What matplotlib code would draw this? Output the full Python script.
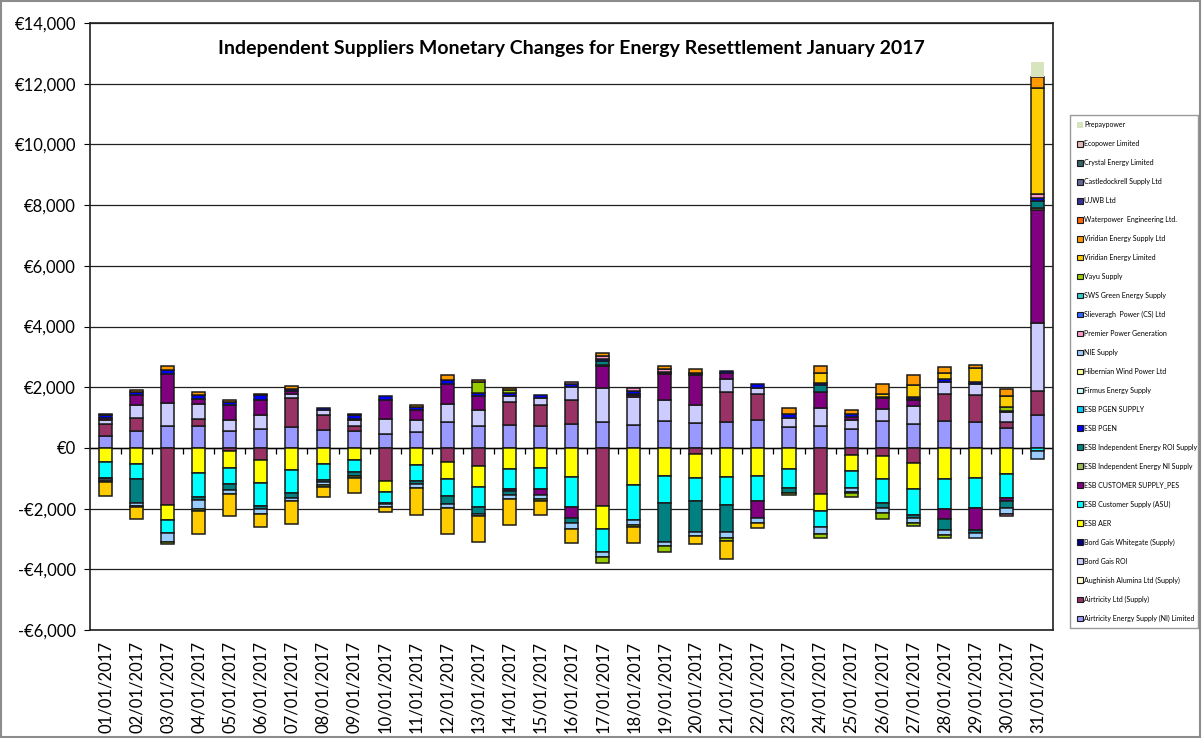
import numpy as np
import matplotlib
matplotlib.use("Agg")
import matplotlib.pyplot as plt
from matplotlib.patches import Rectangle
from matplotlib.ticker import FuncFormatter, MultipleLocator

plt.rcParams['font.family'] = ['Lato', 'DejaVu Sans']

days = [f"{d:02d}/01/2017" for d in range(1, 32)]

NIL = [0] * 31

# series values per day (EUR)
AIR_NI = [400, 545, 725, 725, 550, 615, 695, 585, 570, 470, 535, 840, 710, 765, 710, 800,
          870, 770, 900, 830, 855, 915, 680, 720, 640, 875, 785, 875, 850, 650, 1080]
AIR_LTD = [390, 440, -1890, 220, -100, -385, 955, 485, 155, -1090, 0, -460, -605, 735, 715, 780,
           -1910, 0, 0, -210, 980, 865, 0, -1510, -235, -265, -510, 890, 890, 200, 790]
BG_ROI = [130, 440, 770, 515, 385, 485, 130, 165, 185, 495, 385, 605, 550, 220, 230, 420,
          1110, 895, 665, 600, 420, 210, 300, 580, 265, 420, 610, 400, 355, 335, 2230]
AER = [-460, -515, -470, -825, -550, -770, -735, -540, -405, -360, -570, -550, -680, -680, -660, -955,
       -745, -1210, -935, -780, -965, -910, -690, -555, -535, -745, -835, -1010, -990, -855, 0]
ASU = [-520, -495, -430, -790, -550, -760, -750, -505, -385, -360, -515, -580, -660, -660, -680, -990,
       -780, -1170, -865, -745, -910, -855, -635, -555, -535, -810, -865, -1000, -1000, -800, -100]
PES = [80, 330, 935, 165, 470, 495, 90, 0, 55, 605, 330, 660, 440, -75, -220, -350,
       720, 90, 860, 960, 200, -555, 0, 555, 110, 335, 200, -335, -720, -90, 3735]
IE_NI = [0, 0, 0, 0, 0, 0, 0, 0, 0, 0, 0, 0, 0, 0, 0, 0,
         30, 30, 30, 30, 0, 0, 0, 0, 0, 0, 30, 0, 0, 0, 55]
IE_ROI = [-50, -800, 0, -110, -175, -90, -150, -75, -130, -45, -110, -265, -220, -145, 0, -175,
          130, 0, -1300, -1030, -890, 0, -165, 220, 0, -165, -110, -365, -80, -245, 250]
PGEN = [90, 100, 130, 110, 110, 140, 70, 95, 110, 130, 85, 120, 100, 75, 105, 110,
        60, 105, 55, 60, 90, 130, 150, 50, 95, 60, 50, 95, 80, 40, 90]
NIE = [-60, -110, -310, -285, -130, -165, -120, -90, 0, -90, -120, -110, -90, -110, -130, -185,
       -165, -165, -130, -130, -200, -165, 0, -200, -135, -165, -165, -145, -165, -200, -260]
PREMIER = [0, 0, 0, 0, 0, 0, 0, 0, 0, 0, 0, 0, 0, 0, 0, 65,
           110, 80, 80, 0, 0, 0, 0, 0, -55, 0, 0, 0, 0, -60, 130]
VAYU = [-40, -30, -80, -60, 0, 0, 0, -80, -55, 0, 0, 0, 365, 110, -60, 0,
        -190, -70, -200, 0, -90, 0, -70, -145, -120, -190, -100, -110, 0, 130, 0]
VEL = [-460, -380, 0, -770, -735, -430, -765, -330, -525, -165, -905, -870, -850, -880, -460, -475,
       0, -520, 0, -255, -590, -145, 0, 330, 0, 100, 390, 220, 445, 345, 3485]
VESL = [40, 70, 130, 110, 75, 55, 90, 0, 55, 0, 65, 175, 65, 55, 0, 0,
        110, 0, 110, 110, 0, 0, 200, 245, 145, 310, 335, 200, 110, 255, 385]
PREPAY = [0, 0, 0, 0, 0, 0, 0, 0, 0, 0, 0, 0, 0, 0, 0, 0,
          0, 0, 0, 0, 0, 0, 0, 0, 0, 0, 0, 0, 0, 0, 495]

# (name, values, colour) in stacking order
series = [
    ("Airtricity Energy Supply (NI) Limited", AIR_NI, "#9999FF"),
    ("Airtricity Ltd (Supply)", AIR_LTD, "#993366"),
    ("Aughinish Alumina Ltd (Supply)", NIL, "#FFFFCC"),
    ("Bord Gais ROI", BG_ROI, "#CCCCFF"),
    ("Bord Gais Whitegate (Supply)", NIL, "#000080"),
    ("ESB AER", AER, "#FFFF00"),
    ("ESB Customer Supply (ASU)", ASU, "#00FFFF"),
    ("ESB CUSTOMER SUPPLY_PES", PES, "#800080"),
    ("ESB Independent Energy NI Supply", IE_NI, "#9BBB59"),
    ("ESB Independent Energy ROI Supply", IE_ROI, "#008080"),
    ("ESB PGEN", PGEN, "#0000FF"),
    ("ESB PGEN SUPPLY", NIL, "#00CCFF"),
    ("Firmus Energy Supply", NIL, "#CCFFFF"),
    ("Hibernian Wind Power Ltd", NIL, "#FFFF99"),
    ("NIE Supply", NIE, "#99CCFF"),
    ("Premier Power Generation", PREMIER, "#FF99CC"),
    ("Slieveragh  Power (CS) Ltd", NIL, "#3366FF"),
    ("SWS Green Energy Supply", NIL, "#33CCCC"),
    ("Vayu Supply", VAYU, "#99CC00"),
    ("Viridian Energy Limited", VEL, "#FFCC00"),
    ("Viridian Energy Supply Ltd", VESL, "#FF9900"),
    ("Waterpower  Engineering Ltd.", NIL, "#FF6600"),
    ("UJWB Ltd", NIL, "#333399"),
    ("Castledockrell Supply Ltd", NIL, "#666699"),
    ("Crystal Energy Limited", NIL, "#336666"),
    ("Ecopower Limited", NIL, "#E6B9B8"),
    ("Prepaypower", PREPAY, "#D7E4BD"),
]

fig = plt.figure(figsize=(12.02, 7.38), dpi=100)
ax = fig.add_axes([0.0749, 0.1463, 0.8012, 0.8225])

x = np.arange(len(days))
width = 0.42
pos_base = np.zeros(len(days))
neg_base = np.zeros(len(days))
handles = []
for name, vals, col in series:
    v = np.array(vals, dtype=float)
    edge = "none" if name == "Prepaypower" else "#1a1a1a"
    bottom = np.where(v >= 0, pos_base, neg_base)
    m = v != 0
    ax.bar(x[m], v[m], width, bottom=bottom[m], color=col, edgecolor=edge,
           linewidth=1.1, zorder=3)
    pos_base += np.where(v > 0, v, 0)
    neg_base += np.where(v < 0, v, 0)
    handles.append(Rectangle((0, 0), 1, 1, facecolor=col,
                             edgecolor=edge, linewidth=0.8, label=name))

ax.set_xlim(-0.5, len(days) - 0.5)
ax.set_ylim(-6000, 14000)
ax.yaxis.set_major_locator(MultipleLocator(2000))
ax.yaxis.set_major_formatter(FuncFormatter(
    lambda v, _: f"-€{abs(v):,.0f}" if v < 0 else f"€{v:,.0f}"))
ax.yaxis.grid(True, color="#202020", linewidth=0.9, zorder=0)
ax.set_axisbelow(True)
ax.tick_params(axis="y", labelsize=12, length=4, direction="out", pad=6)
ax.set_xticks(x)
ax.set_xticklabels(days, rotation=90, fontsize=12)
ax.tick_params(axis="x", length=0, pad=8)
for s in ax.spines.values():
    s.set_color("#202020")
    s.set_linewidth(1.2)

# category axis crossing at zero with its tick marks between days
ax.axhline(0, color="black", linewidth=1.0, zorder=2)
ax.vlines(x[:-1] + 0.5, -190, 0, colors="black", linewidth=0.9, zorder=2)

ax.text(0.5, 0.958,
        "Independent Suppliers Monetary Changes for Energy Resettlement January 2017",
        transform=ax.transAxes, ha="center", va="center", fontsize=14, fontweight="bold")

leg = fig.legend(handles=handles[::-1], loc="upper left",
                 bbox_to_anchor=(0.8905, 0.153, 0.106, 0.691), mode="expand",
                 fontsize=5, labelspacing=1.72, handlelength=0.9, handleheight=0.9,
                 handletextpad=0.15, borderpad=0.9, borderaxespad=0,
                 fancybox=False, frameon=True)
leg.get_frame().set_edgecolor("#808080")
leg.get_frame().set_linewidth(1.0)

fig.patches.append(Rectangle((0.001, 0.001), 0.997, 0.997, transform=fig.transFigure,
                             fill=False, edgecolor="#8c8c8c", linewidth=1.5))

fig.savefig("out.png", dpi=100)
